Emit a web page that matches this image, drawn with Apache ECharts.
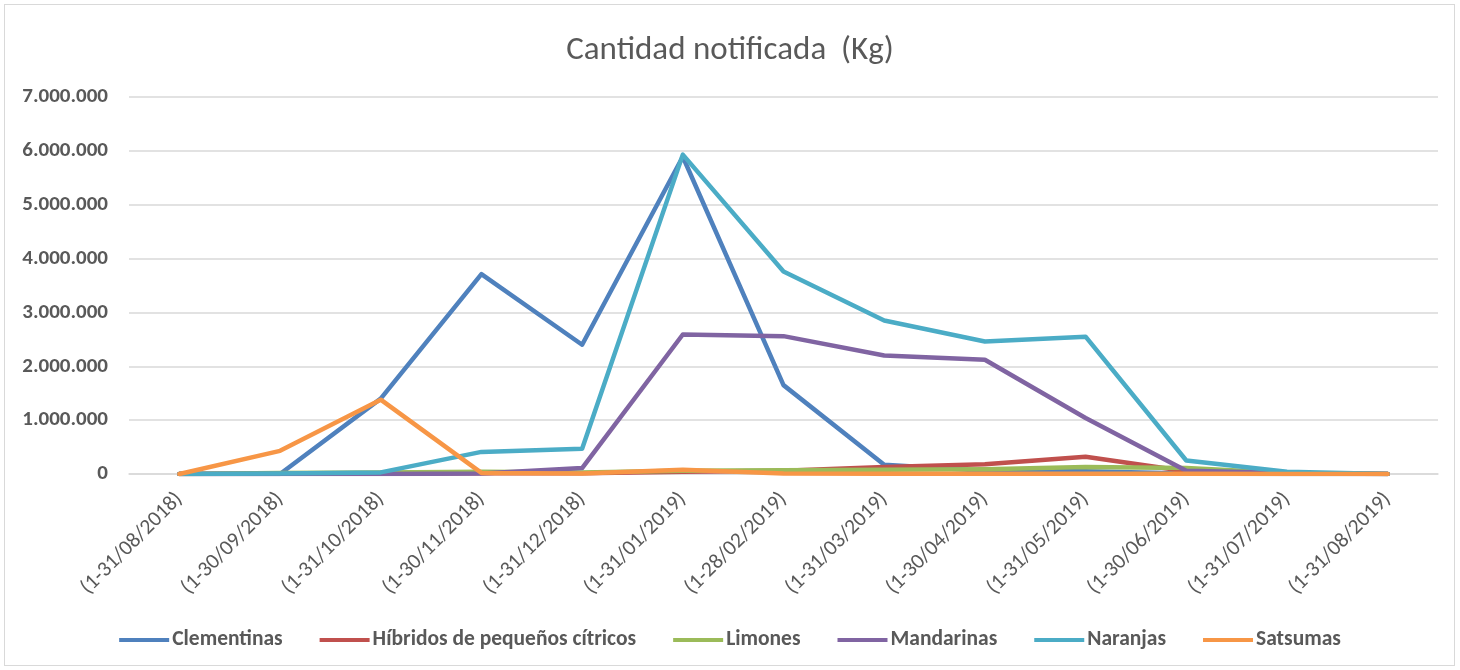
<!DOCTYPE html>
<html><head><meta charset="utf-8">
<script src="https://cdn.jsdelivr.net/npm/echarts@6/dist/echarts.min.js"></script>
<style>
html,body{margin:0;padding:0;background:#fff;}
#frame{position:absolute;left:4px;top:4px;width:1451px;height:662px;border:1px solid #d9d9d9;box-sizing:border-box;}
#c{position:absolute;left:0;top:0;width:1460px;height:670px;}
</style></head>
<body><div id="frame"></div><div id="c"></div>
<script>
const titleText = 'Cantidad notificada  (Kg)';
const categories = ['(1-31/08/2018)','(1-30/09/2018)','(1-31/10/2018)','(1-30/11/2018)','(1-31/12/2018)','(1-31/01/2019)','(1-28/02/2019)','(1-31/03/2019)','(1-30/04/2019)','(1-31/05/2019)','(1-30/06/2019)','(1-31/07/2019)','(1-31/08/2019)'];
const seriesNames = ['Clementinas','Híbridos de pequeños cítricos','Limones','Mandarinas','Naranjas','Satsumas'];
const clementinas = [0, 0, 1400000, 3710000, 2400000, 5890000, 1650000, 170000, 60000, 50000, 10000, 0, 0];
const hibridos   = [0, 5000, 10000, 15000, 15000, 40000, 60000, 130000, 180000, 320000, 50000, 10000, 0];
const limones    = [0, 20000, 30000, 40000, 30000, 60000, 70000, 80000, 90000, 130000, 110000, 20000, 0];
const mandarinas = [0, 0, 0, 10000, 110000, 2590000, 2560000, 2200000, 2120000, 1040000, 60000, 20000, 0];
const naranjas   = [0, 10000, 30000, 410000, 470000, 5930000, 3760000, 2850000, 2460000, 2550000, 250000, 40000, 0];
const satsumas   = [0, 430000, 1380000, 20000, 10000, 80000, 10000, 5000, 5000, 5000, 5000, 0, 0];
const yTicks = [0, 1000000, 2000000, 3000000, 4000000, 5000000, 6000000, 7000000];

const colors = ['#4F81BD','#C0504D','#9BBB59','#8064A2','#4BACC6','#F79646'];
const dataSets = [clementinas, hibridos, limones, mandarinas, naranjas, satsumas];
const font = 'Calibri, Carlito, "Open Sans", sans-serif';
function fmt(v){ return String(v).replace(/\B(?=(\d{3})+(?!\d))/g,'.'); }

const chart = echarts.init(document.getElementById('c'));
chart.setOption({
  animation:false,
  color: colors,
  title:{ text:titleText, left:'center', top:29, textStyle:{ fontFamily:font, fontSize:33, fontWeight:'normal', color:'#595959' } },
  grid:{ left:129, right:22, top:97, bottom:196, containLabel:false },
  legend:{
    top:624, left:'center', itemGap:37, itemWidth:50, itemHeight:4, icon:'rect',
    textStyle:{ fontFamily:font, fontSize:21.5, fontWeight:'bold', color:'#595959', padding:[0,0,0,-2] },
    data: seriesNames
  },
  xAxis:{
    type:'category', data:categories, boundaryGap:true,
    axisLine:{ show:true, lineStyle:{ color:'#d9d9d9', width:1.5 } },
    axisTick:{ show:false },
    axisLabel:{ rotate:45, interval:0, margin:22, fontFamily:font, fontSize:21.5, color:'#595959' }
  },
  yAxis:{
    type:'value', min:0, max:7000000, interval:1000000,
    axisLine:{ show:false }, axisTick:{ show:false },
    splitLine:{ lineStyle:{ color:'#d9d9d9', width:1.5 } },
    axisLabel:{ margin:21, fontFamily:font, fontSize:21, fontWeight:'bold', color:'#595959', formatter:v=>fmt(v) }
  },
  series: seriesNames.map((n,i)=>({
    name:n, type:'line', data:dataSets[i], symbol:'none', smooth:false,
    lineStyle:{ width:4.5, color:colors[i], cap:'round', join:'round' },
    itemStyle:{ color:colors[i] }, z:2+i
  }))
});
</script></body></html>
